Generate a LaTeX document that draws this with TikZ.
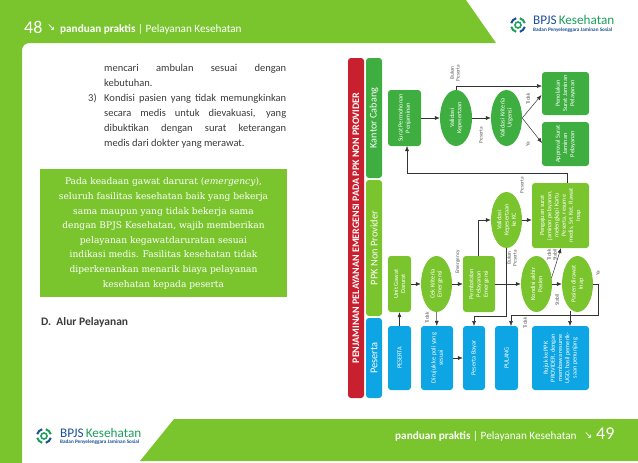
\documentclass[tikz,border=0pt]{standalone}
\usepackage{fontspec}
\setmainfont{Carlito}
\newfontfamily\slabfont{DejaVu Serif}
\newfontfamily\symfont{DejaVu Sans}
\usetikzlibrary{arrows.meta,shapes.geometric}
\definecolor{bandgreen}{HTML}{7AC52E}
\definecolor{darkgreen}{HTML}{3DAE3F}
\definecolor{skyblue}{HTML}{0EA5E4}
\definecolor{barred}{HTML}{C8202F}
\definecolor{logoblue}{HTML}{1C4F9C}
\definecolor{logogreen}{HTML}{1AA05A}
\definecolor{bodygrey}{HTML}{3A3A3A}
\tikzset{
  flowtext/.style={rotate=90, text=white, align=center, inner sep=0pt, font=\fontsize{6.3}{7.2}\selectfont},
  flowbox/.style={flowtext, rectangle, rounded corners=3pt},
  flowoval/.style={flowtext, ellipse},
  barbox/.style={rotate=90, rectangle, rounded corners=3pt, text=white, inner sep=0pt, minimum height=16pt},
  conn/.style={-{Latex[length=5pt,width=4pt]}, line width=0.5pt, draw=black!80},
  flowlabel/.style={rotate=90, text=black!65, inner sep=0pt, align=center, font=\fontsize{5.3}{5.8}\selectfont},
  headtext/.style={anchor=west, text=white, inner sep=0pt},
  bpjslogo/.pic={
    \draw[logogreen, line width=1.6pt] (0,0) circle [radius=3];
    \foreach \a/\c in {0/logoblue,90/logogreen,180/logoblue,270/logogreen}
      \draw[\c, line width=2pt] (\a+15:7) arc [start angle=\a+15, end angle=\a+75, radius=7];
  }
}
\begin{document}
\begin{tikzpicture}[x=1pt,y=-1pt]
  \useasboundingbox (0,0) rectangle (638,463);

  % Page bands
  \fill[bandgreen] (0,0) -- (466,0) -- (496,43) -- (30,43) .. controls (25,43) and (22,46) .. (22,51) -- (22,463) -- (0,463) -- cycle;
  \fill[bandgreen] (174,419) -- (638,419) -- (638,461) -- (140,461) -- cycle;

  % Header and footer text
  \node[headtext, font=\fontsize{18}{18}\selectfont] (numleft) at (24,27) {48};
  \node[headtext, font=\symfont\fontsize{10}{10}\selectfont] (arrowleft) at (47,28) {↘};
  \node[headtext, font=\fontsize{11.2}{12}\selectfont] (headleft) at (60,29) {\textbf{panduan praktis} | Pelayanan Kesehatan};
  \node[headtext, font=\fontsize{11.2}{12}\selectfont] (headright) at (395,436) {\textbf{panduan praktis} | Pelayanan Kesehatan};
  \node[headtext, font=\symfont\fontsize{10}{10}\selectfont] (arrowright) at (584,436) {↘};
  \node[headtext, font=\fontsize{18}{18}\selectfont] (numright) at (596,434) {49};

  % Logos
  \pic at (518,25) {bpjslogo};
  \node[anchor=west, inner sep=0pt, font=\fontsize{13.2}{13}\selectfont] (logotop) at (533,20) {\textcolor{logoblue}{BPJS}\,\textcolor{logogreen}{Kesehatan}};
  \node[anchor=west, inner sep=0pt, text=logoblue, font=\bfseries\fontsize{5.2}{6}\selectfont] (subtop) at (533,30.5) {Badan Penyelenggara Jaminan Sosial};
  \pic at (44,436) {bpjslogo};
  \node[anchor=west, inner sep=0pt, font=\fontsize{13.2}{13}\selectfont] (logobot) at (60,433) {\textcolor{logoblue}{BPJS}\,\textcolor{logogreen}{Kesehatan}};
  \node[anchor=west, inner sep=0pt, text=logoblue, font=\bfseries\fontsize{5.2}{6}\selectfont] (subbot) at (60,442.5) {Badan Penyelenggara Jaminan Sosial};

  % Body text
  \node[anchor=north west, inner sep=0pt, text width=182pt, align=justify, text=bodygrey, font=\fontsize{10.5}{15}\selectfont] (bodytext) at (104,64)
    {mencari ambulan sesuai dengan\linebreak kebutuhan.\\ Kondisi pasien yang tidak memungkinkan\linebreak secara medis untuk dievakuasi, yang\linebreak dibuktikan dengan surat keterangan\linebreak medis dari dokter yang merawat.};
  \node[anchor=north west, inner sep=0pt, text=bodygrey, font=\fontsize{10.5}{15}\selectfont] (itemthree) at (88,94) {3)};

  % Notice box
  \fill[bandgreen] (40,169) rectangle (287,297);
  \node[inner sep=0pt, text=white, align=center, font=\slabfont\fontsize{9.1}{14.6}\selectfont] (notice) at (163.5,233.5)
    {Pada keadaan gawat darurat (\textit{emergency}),\\seluruh fasilitas kesehatan baik yang bekerja\\sama maupun yang tidak bekerja sama\\dengan BPJS Kesehatan, wajib memberikan\\pelayanan kegawatdaruratan sesuai\\indikasi medis. Fasilitas kesehatan tidak\\diperkenankan menarik biaya pelayanan\\kesehatan kepada peserta};
  \node[anchor=west, inner sep=0pt, text=bodygrey, font=\bfseries\fontsize{11.5}{12}\selectfont] (alur) at (41,322) {D.\ \ Alur Pelayanan};

  % Column bars
  \node[barbox, fill=barred, minimum width=340pt, font=\bfseries\fontsize{10}{10}\selectfont] (barjudul) at (356,228) {PENJAMINAN PELAYANAN EMERGENSI PADA PPK NON PROVIDER};
  \node[barbox, fill=darkgreen, minimum width=120pt, font=\fontsize{10.2}{12}\selectfont] (barkantor) at (374,118) {Kantor Cabang};
  \node[barbox, fill=bandgreen, minimum width=136pt, font=\fontsize{10.4}{12}\selectfont] (barppk) at (374,248) {PPK Non Provider};
  \node[barbox, fill=skyblue, minimum width=80pt, font=\fontsize{10.4}{12}\selectfont] (barpeserta) at (374,358) {Peserta};

  % Kantor Cabang nodes
  \node[flowbox, fill=darkgreen, minimum width=56pt, minimum height=33pt] (surat) at (404.5,118) {Surat Permohonan\\Penjaminan};
  \node[flowoval, fill=darkgreen, minimum width=56pt, minimum height=32pt] (validasi) at (456,118) {Validasi\\Kepesertaan};
  \node[flowoval, fill=darkgreen, minimum width=56pt, minimum height=31pt] (kriteria) at (506.5,118) {Validasi Kriteria\\Urgensi};
  \node[flowbox, fill=darkgreen, minimum width=43pt, minimum height=47pt] (tolak) at (565.5,93.5) {Penolakan\\Surat Jaminan\\Pelayanan};
  \node[flowbox, fill=darkgreen, minimum width=44pt, minimum height=47pt] (approval) at (565.5,144) {Approval Surat\\Jaminan\\Pelayanan};

  % PPK nodes
  \node[flowbox, fill=bandgreen, minimum width=56pt, minimum height=23pt] (unit) at (399.5,284) {Unit Gawat\\Darurat};
  \node[flowoval, fill=bandgreen, minimum width=56pt, minimum height=31pt] (cek) at (436.5,284) {Cek Kriteria\\Emergensi};
  \node[flowbox, fill=bandgreen, minimum width=56pt, minimum height=32pt] (batal) at (479,284) {Pembatalan\\Pelayanan\\Emergensi};
  \node[flowoval, fill=bandgreen, minimum width=56pt, minimum height=31pt] (kepkc) at (506.5,220) {Validasi\\Kepesertaan\\ke KC};
  \node[flowbox, fill=bandgreen, minimum width=65pt, minimum height=57pt] (ajuan) at (560.5,215.5) {Pengajuan surat\\jaminan pelayanan,\\melengkapi Kartu\\Peserta, resume\\medis, Srt Ket. Rawat\\Inap};
  \node[flowoval, fill=bandgreen, minimum width=56pt, minimum height=31pt] (kondisi) at (536.5,284) {Kondisi akhir\\Pasien};
  \node[flowoval, fill=bandgreen, minimum width=56pt, minimum height=31pt] (dirawat) at (577.5,284) {Pasien dirawat\\Inap};

  % Peserta nodes
  \node[flowbox, fill=skyblue, minimum width=64pt, minimum height=23pt] (peserta) at (399.5,358) {PESERTA};
  \node[flowbox, fill=skyblue, minimum width=64pt, minimum height=32pt] (dirujuk) at (437,358) {Dirujuk ke poli yang\\sesuai};
  \node[flowbox, fill=skyblue, minimum width=64pt, minimum height=22pt] (bayar) at (474,358) {Peserta Bayar};
  \node[flowbox, fill=skyblue, minimum width=64pt, minimum height=23pt] (pulang) at (506.5,358) {PULANG};
  \node[flowbox, fill=skyblue, minimum width=64pt, minimum height=57pt] (rujuk) at (560.5,358) {Rujuk ke PPK\\PROVIDER, dengan\\membawa resume\\UGD, hasil pemerik-\\saan penunjang};

  % Bend points
  \coordinate (tolakin) at (542,86);
  \coordinate (tolakmid) at (541.5,95);
  \coordinate (approvalin) at (542,143);
  \coordinate (ajuatas) at (567,183);
  \coordinate (ajubelok) at (567,173);
  \coordinate (suratbelok) at (407,173);
  \coordinate (suratin) at (407,146);
  \coordinate (batalatas) at (478,256);
  \coordinate (batalbelok) at (478,220);
  \coordinate (bayarin) at (474,326);
  \coordinate (bayarbelok) at (474,316);
  \coordinate (kepkcbelok) at (506.5,316);
  \coordinate (rawatbelok) at (598,284);
  \coordinate (rawatbawah) at (598,315);
  \coordinate (pulangbelok) at (511,315);
  \coordinate (pulangin) at (511,326);
  \coordinate (rawatkeluar) at (570,311);
  \coordinate (rujukin) at (570,326);
  \coordinate (kondisikeluar) at (551.5,278);
  \coordinate (ajuin) at (561,248);

  % Connectors
  \draw[conn] (surat) -- (validasi);
  \draw[conn] (validasi) -- (kriteria);
  \draw[conn] (validasi.east) |- (tolakin);
  \draw[conn] (kriteria.south) -- (tolakmid);
  \draw[conn] (kriteria.south) -- (approvalin);
  \draw[conn] (ajuatas) -- (ajubelok) -- (suratbelok) -- (suratin);
  \draw[conn] (peserta) -- (unit);
  \draw[conn] (unit) -- (cek);
  \draw[conn] (cek) -- (batal);
  \draw[conn] (cek) -- (dirujuk);
  \draw[conn] (dirujuk) -- (bayar);
  \draw[conn] (batalatas) -- (batalbelok) -- (kepkc);
  \draw[conn] (batal) -- (kondisi);
  \draw[conn] (kepkc) -- (ajuan.north |- kepkc);
  \draw[conn] (kepkc.west) -- (kepkcbelok) -- (bayarbelok) -- (bayarin);
  \draw[conn] (kondisi) -- (dirawat);
  \draw[conn] (kondisikeluar) -- (ajuin);
  \draw[conn] (dirawat) -- (rawatbelok) -- (rawatbawah) -- (pulangbelok) -- (pulangin);
  \draw[conn] (rawatkeluar) -- (rujukin);

  % Connector labels
  \node[flowlabel] (lbukan) at (455,73) {Bukan\\Peserta};
  \node[flowlabel] (lpeserta) at (481,135) {Peserta};
  \node[flowlabel] (ltidak) at (528,99) {Tidak};
  \node[flowlabel] (lya) at (528,144) {Ya};
  \node[flowlabel] (lpesertadua) at (522,185) {Peserta};
  \node[flowlabel] (lemergency) at (458,262) {Emergency};
  \node[flowlabel] (ltidakdua) at (427,318) {Tidak};
  \node[flowlabel] (lbukandua) at (512,258) {Bukan\\Peserta};
  \node[flowlabel] (ltidakstabil) at (552,255) {Tidak\\Stabil};
  \node[flowlabel] (lstabil) at (557,300) {Stabil};
  \node[flowlabel] (lyadua) at (598,273) {Ya};
  \node[flowlabel] (ltidaktiga) at (525,323) {Tidak};
\end{tikzpicture}
\end{document}
